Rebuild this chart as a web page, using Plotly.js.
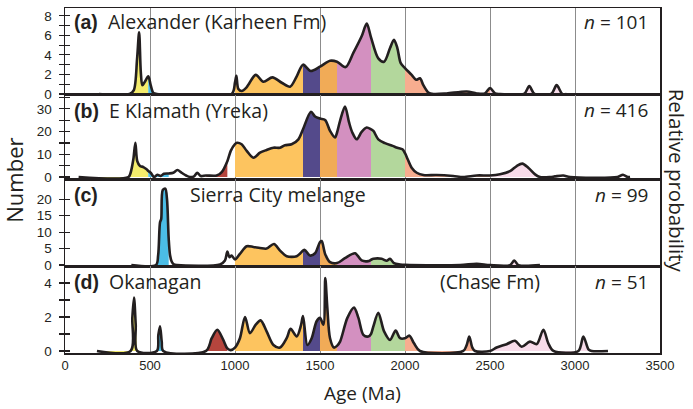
<!DOCTYPE html>
<html>
<head>
<meta charset="utf-8">
<script src="https://cdn.plot.ly/plotly-3.0.1.min.js"></script>
<style>html,body{margin:0;padding:0;background:#fff}#chart{width:693px;height:409px}</style>
</head>
<body>
<div id="chart"></div>
<script>
// ---- Data: [age (Ma), number] ----
const curveA = [[200,0],[380,0],[405,0.4],[424,3.6],[436,6.3],[446,2.2],[455,0.9],[468,1.2],[490,1.8],[504,0.9],[520,0.1],[540,0],
  [980,0],[1000,1.2],[1008,1.85],[1020,0.5],[1040,0.3],[1069,0.7],[1122,1.95],[1167,1.25],[1220,1.7],[1275,1.15],[1324,0.75],[1363,1.8],
  [1400,3.0],[1445,2.35],[1500,2.8],[1559,3.4],[1600,3.3],[1651,2.75],[1696,4.2],[1745,5.9],[1775,7.2],[1800,5.8],[1843,3.65],[1877,3.3],
  [1912,4.7],[1935,5.55],[1955,4.7],[1975,3.15],[2000,2.65],[2039,1.95],[2065,1.45],[2088,1.6],[2108,0.9],[2137,0.15],[2167,0],[2245,0.05],
  [2363,0.25],[2422,0.05],[2470,0.05],[2500,0.6],[2530,0.05],[2560,0],[2700,0],[2731,0.8],[2762,0],[2860,0],[2892,0.9],[2925,0],[2950,0]];
const curveB = [[80,0],[373,0],[386,1.9],[402,7.8],[414,15.1],[425,7.0],[441,4.9],[461,4.4],[480,3.4],[490,2.7],[504,1.9],[524,0],
  [543,1.0],[563,0.45],[582,1.45],[610,1.6],[637,1.9],[661,3.1],[686,1.9],[712,0.7],[735,0],[759,0.3],[778,1.9],[798,0.45],[830,0.7],
  [892,0.7],[922,2.2],[955,7.0],[975,11.5],[1000,14.5],[1012,15.1],[1039,14.4],[1069,11.5],[1108,8.5],[1147,10.7],[1186,11.9],[1226,12.9],
  [1265,12.9],[1294,14.0],[1333,14.4],[1373,16.6],[1400,21.0],[1447,28.7],[1471,26.6],[1500,25.7],[1530,25.1],[1559,20.3],[1588,17.4],
  [1600,19.5],[1618,24.7],[1647,31.0],[1671,24.0],[1690,19.6],[1716,16.6],[1745,19.9],[1775,21.8],[1800,21.0],[1814,20.3],[1843,16.6],
  [1882,14.9],[1927,13.7],[1955,12.9],[1985,12.2],[2000,10.5],[2016,7.8],[2039,4.1],[2069,1.9],[2108,0.9],[2186,0.9],[2284,0.45],
  [2343,0],[2422,0.7],[2500,0.7],[2559,1.2],[2618,2.6],[2657,4.85],[2690,5.9],[2725,4.1],[2765,1.2],[2794,0],[2853,0],[2882,0.3],
  [2931,0.7],[2971,0],[3250,0],[3282,1.0],[3310,0],[3324,0]];
const curveC = [[390,0],[535,0],[548,3],[559,13],[566,14],[575,22.8],[590,23.2],[600,20],[610,8],[618,3],[628,1],[640,0.2],[660,0],
  [912,0.2],[941,1.4],[955,4.1],[967,2.4],[980,2.9],[1000,1.7],[1029,3.4],[1069,5.7],[1108,5.5],[1147,5.2],[1186,5.0],[1229,6.4],
  [1265,4.4],[1304,2.7],[1363,2.7],[1400,4.4],[1410,4.6],[1441,2.9],[1471,3.6],[1500,7.0],[1510,7.3],[1530,3.4],[1559,0.9],[1600,0.6],
  [1647,2.1],[1706,3.6],[1745,1.4],[1784,1.2],[1800,1.6],[1814,1.9],[1863,1.9],[1892,1.3],[1912,1.9],[1935,0.6],[1971,0.2],[2000,0.05],
  [2029,0],[2324,0],[2422,0.4],[2500,0],[2618,0],[2643,1.4],[2667,0],[2794,0]];
const curveD = [[188,0],[386,0],[396,1.95],[406,3.15],[416,1.55],[425,0],[540,0],[549,0.95],[559,1.45],[569,0.55],[578,0],[830,0],
  [863,0.75],[896,1.25],[931,0.65],[955,0.15],[975,0.05],[1000,0.2],[1029,0.75],[1059,2.0],[1088,1.05],[1122,1.55],[1151,1.8],[1186,1.15],
  [1226,0.35],[1265,0.2],[1304,0.75],[1327,1.3],[1363,0.85],[1388,1.5],[1400,2.05],[1426,0.35],[1451,0.75],[1480,1.75],[1500,1.95],
  [1520,1.55],[1531,4.3],[1543,2.55],[1559,0.75],[1582,0.2],[1600,0.3],[1618,0.55],[1661,1.95],[1700,2.55],[1726,1.95],[1755,0.95],
  [1784,0.85],[1800,1.0],[1814,1.45],[1843,2.25],[1877,1.15],[1912,0.65],[1945,1.2],[1971,0.75],[2000,0.75],[2026,0.9],[2053,0.45],
  [2088,0],[2343,0],[2363,0.35],[2378,0.85],[2396,0.2],[2412,0],[2500,0],[2539,0.2],[2598,0.4],[2647,0.6],[2686,0.25],[2735,0.55],
  [2775,0.4],[2814,1.25],[2843,0.45],[2873,0],[3020,0],[3049,0.85],[3079,0.1],[3098,0],[3194,0]];

const panelCurves = [curveA, curveB, curveC, curveD];
const panelLetters = ['a', 'b', 'c', 'd'];
const panelNames = ['Alexander (Karheen Fm)', 'E Klamath (Yreka)', '', 'Okanagan'];
const panelN = [101, 416, 99, 51];

// age bands (Ma) used for colouring
const bandLo = [0, 490, 830, 1000, 1400, 1500, 1600, 1800, 2000, 2500];
const bandHi = [490, 610, 955, 1400, 1500, 1600, 1800, 2000, 2500, 3400];
const bandColors = ['#f4ec6c', '#4bbde6', '#b5453d', '#fdc45f', '#544a8b', '#f1ab57', '#d390c0', '#b3d79c', '#f7ad8f', '#f8dcea'];
const skipBands = [[], [], [2], []];

const xTicks = [0, 500, 1000, 1500, 2000, 2500, 3000, 3500];
const yTickLabels = [[0, 2, 4, 6, 8], [0, 10, 20, 30], [0, 5, 10, 15, 20], [0, 2, 4]];
const yMinorTicks = [[1, 3, 5, 7], [5, 15, 25, 35], [], [1, 3]];

// ---- style ----
const ink = '#231f20';
const yRanges = [[-0.1, 8.8], [-0.9, 36.1], [-0.3, 26.1], [-0.12, 5.0]];
const domains = [[0.748, 1], [0.504, 0.748], [0.252, 0.504], [0, 0.252]];
const SM = 0.85;

const traces = [];
panelCurves.forEach((curve, p) => {
  const xa = p === 0 ? 'x' : 'x' + (p + 1);
  const ya = p === 0 ? 'y' : 'y' + (p + 1);
  bandLo.forEach((lo, b) => {
    if (skipBands[p].includes(b)) return;
    const pts = curve.filter(d => d[0] >= lo && d[0] <= bandHi[b]);
    if (pts.length < 2 || pts.every(d => d[1] === 0)) return;
    traces.push({
      x: pts.map(d => d[0]), y: pts.map(d => d[1]), xaxis: xa, yaxis: ya,
      mode: 'lines', line: {width: 0, shape: 'spline', smoothing: SM},
      fill: 'tozeroy', fillcolor: bandColors[b], hoverinfo: 'skip', showlegend: false
    });
  });
  traces.push({
    x: curve.map(d => d[0]), y: curve.map(d => d[1]), xaxis: xa, yaxis: ya,
    mode: 'lines', line: {width: 2.6, color: ink, shape: 'spline', smoothing: SM},
    hoverinfo: 'skip', showlegend: false
  });
  // carriers for the tick overlay axes (ticks crossing the left frame)
  traces.push({x: [null], y: [null], xaxis: xa, yaxis: 'y' + (p + 5), showlegend: false, hoverinfo: 'skip'});
  traces.push({x: [null], y: [null], xaxis: xa, yaxis: 'y' + (p + 9), showlegend: false, hoverinfo: 'skip'});
});

const layout = {
  width: 693, height: 409,
  margin: {l: 65, r: 33, t: 8, b: 56},
  paper_bgcolor: '#fff', plot_bgcolor: 'rgba(0,0,0,0)',
  showlegend: false,
  font: {family: 'Liberation Sans, Arial, sans-serif', color: ink, size: 13},
  annotations: [],
};

for (let p = 0; p < 4; p++) {
  const xk = p === 0 ? 'xaxis' : 'xaxis' + (p + 1);
  const yk = p === 0 ? 'yaxis' : 'yaxis' + (p + 1);
  const ya = p === 0 ? 'y' : 'y' + (p + 1);
  const xa = p === 0 ? 'x' : 'x' + (p + 1);
  layout[xk] = {
    domain: [0, 1], anchor: ya, range: [0, 3500],
    tickmode: 'array', tickvals: xTicks, ticktext: xTicks.map(String),
    showticklabels: p === 3, ticks: '',
    showgrid: true, gridcolor: '#8c8c8c', gridwidth: 1,
    zeroline: false, showline: true, mirror: true, linecolor: ink, linewidth: 1.5,
    tickfont: {size: 13, family: 'Liberation Sans, Arial, sans-serif', color: ink},
  };
  if (p > 0) layout[xk].matches = 'x';
  layout[yk] = {
    domain: domains[p], anchor: xa, range: yRanges[p],
    tickmode: 'array', tickvals: yTickLabels[p], ticktext: yTickLabels[p].map(String),
    ticks: 'outside', ticklen: 5, tickwidth: 1.2, tickcolor: ink,
    showgrid: false, zeroline: false, showline: true, mirror: true, linecolor: ink, linewidth: 1.5,
    tickfont: {size: 13.5, family: 'Liberation Sans, Arial, sans-serif', color: ink},
    ticklabelstandoff: 4,
  };
  // inward major ticks
  layout['yaxis' + (p + 5)] = {
    overlaying: ya, anchor: xa, range: yRanges[p], side: 'left',
    tickmode: 'array', tickvals: yTickLabels[p], ticks: 'inside', ticklen: 5, tickwidth: 1.2, tickcolor: ink,
    showticklabels: false, showgrid: false, zeroline: false, showline: false,
  };
  // minor ticks, crossing the frame
  layout['yaxis' + (p + 9)] = {
    overlaying: ya, anchor: xa, range: yRanges[p], side: 'left',
    tickmode: 'array', tickvals: yMinorTicks[p].length ? yMinorTicks[p] : [-99], ticks: 'inside', ticklen: 5, tickwidth: 1.2, tickcolor: ink,
    minor: {tickvals: yMinorTicks[p].length ? yMinorTicks[p] : [-99], ticks: 'outside', ticklen: 5, tickwidth: 1.2, tickcolor: ink},
    showticklabels: false, showgrid: false, zeroline: false, showline: false,
  };
}

const textFont = 'Open Sans, Noto Sans, sans-serif';
const titleY = [0.960, 0.704, 0.458, 0.206];
for (let p = 0; p < 4; p++) {
  layout.annotations.push({
    xref: 'paper', yref: 'paper', x: 0.011, y: titleY[p], xanchor: 'left', yanchor: 'middle', showarrow: false,
    text: '<span style="font-family:Liberation Sans, Arial"><b>(' + panelLetters[p] + ')</b></span>' +
      (panelNames[p] ? '  ' + panelNames[p] : ''),
    font: {family: textFont, size: 19.5, color: ink}
  });
  layout.annotations.push({
    xref: 'paper', yref: 'paper', x: 0.984, y: titleY[p], xanchor: 'right', yanchor: 'middle', showarrow: false,
    text: '<i>n</i> = ' + panelN[p], font: {family: textFont, size: 19, color: ink}
  });
}
layout.annotations.push({
  xref: 'paper', yref: 'paper', x: 0.207, y: 0.458, xanchor: 'left', yanchor: 'middle', showarrow: false,
  text: 'Sierra City melange', font: {family: textFont, size: 19.5, color: ink}
});
layout.annotations.push({
  xref: 'paper', yref: 'paper', x: 0.714, y: 0.206, xanchor: 'center', yanchor: 'middle', showarrow: false,
  text: '(Chase Fm)', font: {family: textFont, size: 19.5, color: ink}
});
layout.annotations.push({
  xref: 'paper', yref: 'paper', x: 0.5, y: -0.115, xanchor: 'center', yanchor: 'middle', showarrow: false,
  text: 'Age (Ma)', font: {family: textFont, size: 19, color: ink}
});
layout.annotations.push({
  xref: 'paper', yref: 'paper', x: -0.087, y: 0.5, xanchor: 'center', yanchor: 'middle', showarrow: false,
  text: 'Number', textangle: -90, font: {family: textFont, size: 22, color: ink}
});
layout.annotations.push({
  xref: 'paper', yref: 'paper', x: 1.03, y: 0.5, xanchor: 'center', yanchor: 'middle', showarrow: false,
  text: 'Relative probability', textangle: 90, font: {family: textFont, size: 20.5, color: ink}
});

Plotly.newPlot('chart', traces, layout, {staticPlot: true, displayModeBar: false});
</script>
</body>
</html>
